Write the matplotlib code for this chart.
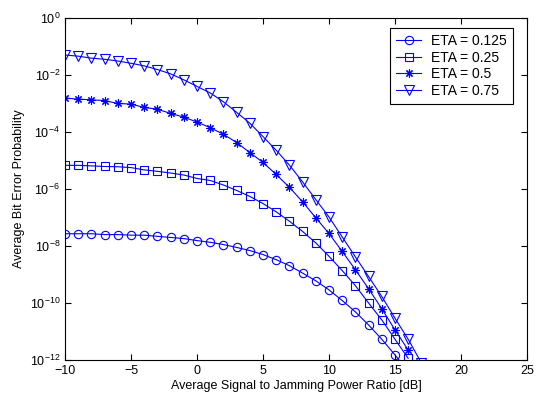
# Average bit error probability vs signal-to-jamming ratio
import matplotlib
matplotlib.use("Agg")
from matplotlib import pyplot as plt
from matplotlib.ticker import NullLocator, FixedLocator
import numpy as np

plt.rcParams['font.family'] = ['Liberation Sans', 'DejaVu Sans']
plt.rcParams['mathtext.fontset'] = 'custom'
plt.rcParams['mathtext.rm'] = 'Liberation Sans'

# log10 of the bit error probability
x_circ = list(range(-10, 17))
eta_0125 = [-7.57, -7.57, -7.57, -7.60, -7.60, -7.62, -7.62, -7.66, -7.70, -7.74,
            -7.81, -7.87, -7.95, -8.05, -8.16, -8.30, -8.48, -8.69, -8.95, -9.22,
            -9.54, -9.91, -10.31, -10.77, -11.27, -11.82, -12.40]
x_sq = list(range(-10, 17))
eta_025 = [-5.17, -5.17, -5.19, -5.21, -5.22, -5.25, -5.33, -5.38, -5.44, -5.51,
           -5.63, -5.70, -5.86, -6.05, -6.26, -6.51, -6.80, -7.13, -7.49, -7.89,
           -8.36, -8.86, -9.39, -10.00, -10.59, -11.27, -11.94]
x_star = list(range(-10, 17))
eta_05 = [-2.81, -2.85, -2.87, -2.90, -3.00, -3.02, -3.14, -3.20, -3.35, -3.48,
          -3.65, -3.85, -4.08, -4.37, -4.72, -5.07, -5.49, -5.94, -6.45, -7.01,
          -7.56, -8.19, -8.83, -9.50, -10.20, -10.94, -11.65]
x_tri = list(range(-10, 18))
eta_075 = [-1.30, -1.34, -1.41, -1.45, -1.51, -1.59, -1.68, -1.81, -1.96, -2.17,
           -2.40, -2.63, -2.94, -3.31, -3.69, -4.16, -4.64, -5.16, -5.75, -6.37,
           -6.98, -7.68, -8.38, -9.07, -9.77, -10.53, -11.27, -12.10]

labels = ['ETA = 0.125', 'ETA = 0.25', 'ETA = 0.5', 'ETA = 0.75']

fig = plt.figure(figsize=(5.39, 4.01), dpi=100)
ax = fig.add_axes([0.1206, 0.1022, 0.857, 0.853])

blue = '#0000ff'
kw = dict(color=blue, lw=0.8, markerfacecolor='none',
          markeredgecolor=blue, markeredgewidth=0.8)
ax.semilogy(x_circ, 10**np.array(eta_0125), marker='o', markersize=6,
            label=labels[0], **kw)
ax.semilogy(x_sq, 10**np.array(eta_025), marker='s', markersize=6,
            label=labels[1], **kw)
ax.semilogy(x_star, 10**np.array(eta_05), marker=(8, 2, 0), markersize=6,
            label=labels[2], **kw)
ax.semilogy(x_tri, 10**np.array(eta_075), marker='v', markersize=7,
            label=labels[3], **kw)

ax.set_xlim(-10, 25)
ax.set_ylim(1e-12, 1e0)
ax.set_xticks([-10, -5, 0, 5, 10, 15, 20, 25])
ax.yaxis.set_major_locator(FixedLocator([10.0**k for k in range(-12, 1, 2)]))
ax.yaxis.set_minor_locator(NullLocator())
ax.tick_params(direction='in', top=True, right=True, labelsize=9, length=4)

ax.set_xlabel('Average Signal to Jamming Power Ratio [dB]', fontsize=9, labelpad=2)
ax.set_ylabel('Average Bit Error Probability', fontsize=9, labelpad=3)

leg = ax.legend(loc='upper right', bbox_to_anchor=(0.97, 0.972), fontsize=10,
                fancybox=False, framealpha=1, edgecolor='black',
                borderaxespad=0, handlelength=1.8, handletextpad=0.7,
                labelspacing=0.2, borderpad=0.45)
leg.get_frame().set_linewidth(0.8)

fig.savefig('out.png', dpi=100)
